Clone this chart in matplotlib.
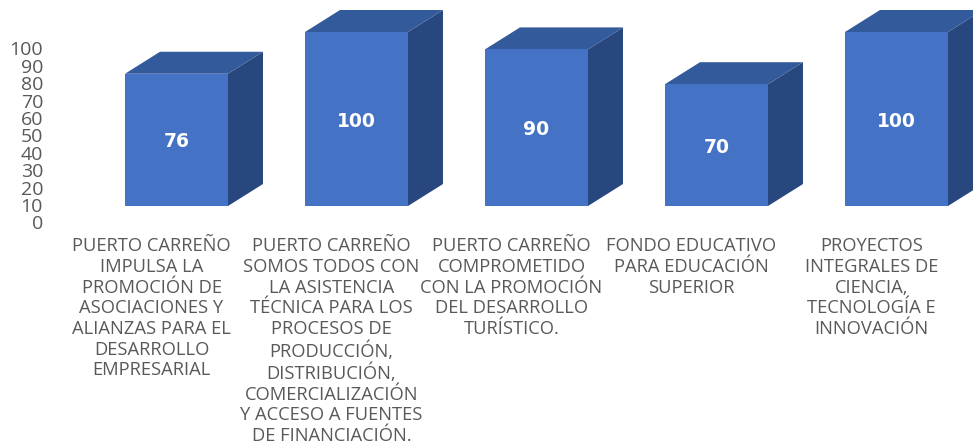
import matplotlib
matplotlib.use("Agg")
from matplotlib import pyplot as plt
from matplotlib.patches import Polygon

labels = [
    "PUERTO CARREÑO\nIMPULSA LA\nPROMOCIÓN DE\nASOCIACIONES Y\nALIANZAS PARA EL\nDESARROLLO\nEMPRESARIAL",
    "PUERTO CARREÑO\nSOMOS TODOS CON\nLA ASISTENCIA\nTÉCNICA PARA LOS\nPROCESOS DE\nPRODUCCIÓN,\nDISTRIBUCIÓN,\nCOMERCIALIZACIÓN\nY ACCESO A FUENTES\nDE FINANCIACIÓN.",
    "PUERTO CARREÑO\nCOMPROMETIDO\nCON LA PROMOCIÓN\nDEL DESARROLLO\nTURÍSTICO.",
    "FONDO EDUCATIVO\nPARA EDUCACIÓN\nSUPERIOR",
    "PROYECTOS\nINTEGRALES DE\nCIENCIA,\nTECNOLOGÍA E\nINNOVACIÓN",
]
values = [76, 100, 90, 70, 100]
ticks = [0, 10, 20, 30, 40, 50, 60, 70, 80, 90, 100]

W, H = 973, 443
base_y = 206      # pixel row of the front face bottom
unit = 1.74       # pixels per value
step = 180
first_x = 176.5
bar_w = 103 / step
depth_x = 35 / step
depth_y = 22 / unit

front = "#4472c4"
top = "#335a9a"
side = "#29477f"
grey = "#595959"

plt.rcParams["font.family"] = ["Open Sans", "DejaVu Sans"]

fig = plt.figure(figsize=(W / 100, H / 100), dpi=100)
ax = fig.add_axes([0, 0, 1, 1])
ax.set_xlim(-first_x / step, (W - first_x) / step)
ax.set_ylim((base_y - H) / unit, base_y / unit)
ax.axis("off")

xs = range(len(values))
ax.bar(xs, values, width=bar_w, color=front, linewidth=0, zorder=2)

for i, v in zip(xs, values):
    l = i - bar_w / 2
    r = i + bar_w / 2
    ax.add_patch(Polygon([(r, 0), (r + depth_x, depth_y), (r + depth_x, v + depth_y), (r, v)],
                         closed=True, fc=side, ec="none", zorder=1))
    ax.add_patch(Polygon([(l, v), (l + depth_x, v + depth_y), (r + depth_x, v + depth_y), (r, v)],
                         closed=True, fc=top, ec="none", zorder=1))
    ax.text(i, v / 2 - 1.2, str(v), color="white", fontsize=13.5, fontweight="bold",
            family=["DejaVu Sans"], ha="center", va="center", zorder=3)

# value axis sits lower than the front face because of the 3D projection
for t in ticks:
    ax.text((43 - first_x) / step, t - 18.5 / unit, str(t), color=grey, fontsize=14,
            ha="right", va="center")

# category labels are shifted left of the bars, same reason
for i, lab in zip(xs, labels):
    ax.text(i - 25 / step, (base_y - 237.5) / unit, lab, color=grey, fontsize=13.2,
            ha="center", va="top", linespacing=1.19)

fig.savefig("out.png", dpi=100)
